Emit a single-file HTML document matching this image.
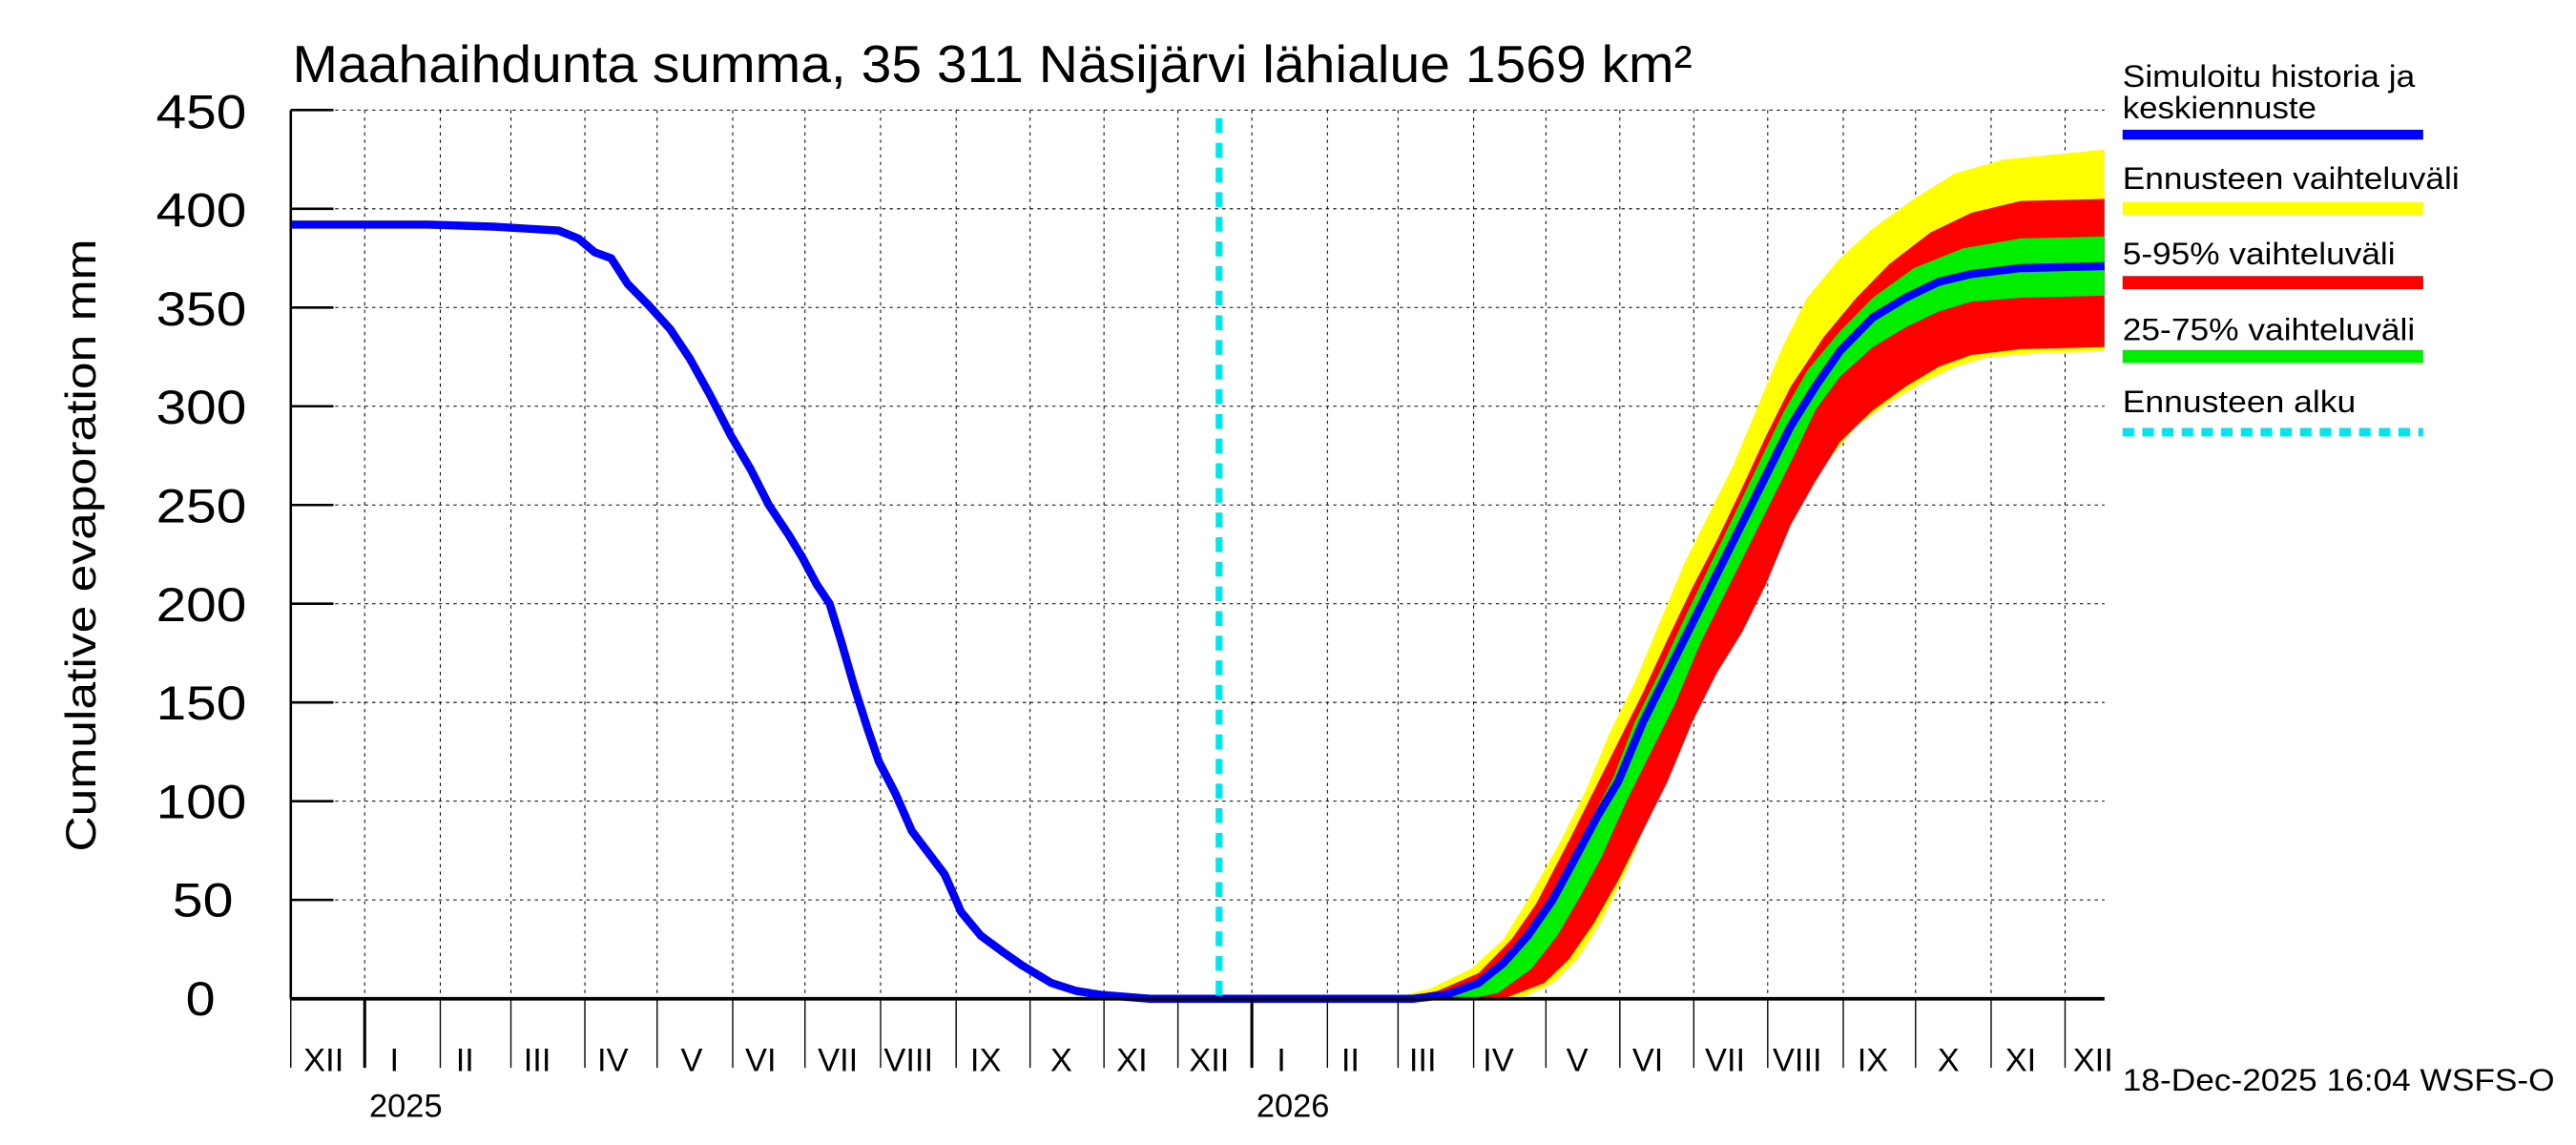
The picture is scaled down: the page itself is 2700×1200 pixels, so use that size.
<!DOCTYPE html>
<html><head><meta charset="utf-8"><style>
html,body{margin:0;padding:0;background:#fff;}
svg{display:block;}
text{font-family:"Liberation Sans",sans-serif;fill:#000;}
</style></head><body>
<svg width="2700" height="1200" viewBox="0 0 1568 697" preserveAspectRatio="none" xmlns="http://www.w3.org/2000/svg">
<rect width="1568" height="697" fill="#fff"/>
<g stroke="#000" stroke-width="0.6" stroke-dasharray="2,2.5">
<line x1="177" x2="1281" y1="67" y2="67"/><line x1="177" x2="1281" y1="127.1" y2="127.1"/><line x1="177" x2="1281" y1="187.2" y2="187.2"/><line x1="177" x2="1281" y1="247.3" y2="247.3"/><line x1="177" x2="1281" y1="307.4" y2="307.4"/><line x1="177" x2="1281" y1="367.5" y2="367.5"/><line x1="177" x2="1281" y1="427.6" y2="427.6"/><line x1="177" x2="1281" y1="487.7" y2="487.7"/><line x1="177" x2="1281" y1="547.8" y2="547.8"/>
<line x1="222" x2="222" y1="67" y2="608"/><line x1="268" x2="268" y1="67" y2="608"/><line x1="311" x2="311" y1="67" y2="608"/><line x1="356" x2="356" y1="67" y2="608"/><line x1="400" x2="400" y1="67" y2="608"/><line x1="446" x2="446" y1="67" y2="608"/><line x1="490" x2="490" y1="67" y2="608"/><line x1="536" x2="536" y1="67" y2="608"/><line x1="582" x2="582" y1="67" y2="608"/><line x1="627" x2="627" y1="67" y2="608"/><line x1="672" x2="672" y1="67" y2="608"/><line x1="717" x2="717" y1="67" y2="608"/><line x1="762" x2="762" y1="67" y2="608"/><line x1="808" x2="808" y1="67" y2="608"/><line x1="851" x2="851" y1="67" y2="608"/><line x1="897" x2="897" y1="67" y2="608"/><line x1="941" x2="941" y1="67" y2="608"/><line x1="986" x2="986" y1="67" y2="608"/><line x1="1031" x2="1031" y1="67" y2="608"/><line x1="1076" x2="1076" y1="67" y2="608"/><line x1="1122" x2="1122" y1="67" y2="608"/><line x1="1166" x2="1166" y1="67" y2="608"/><line x1="1212" x2="1212" y1="67" y2="608"/><line x1="1257" x2="1257" y1="67" y2="608"/>
</g>
<g transform="translate(0,608) scale(1,-1.2022)">
<polygon fill="#ffff00" points="845,0 870,5 895,15 915,30 930,50 950,80 965,105 980,135 995,160 1010,190 1025,220 1040,245 1055,270 1070,300 1085,330 1100,355 1120,375 1140,390 1165,405 1190,418 1220,425 1281,430 1281,328 1240,327 1210,325 1190,320 1170,312 1150,302 1130,290 1110,270 1095,250 1080,225 1065,200 1050,175 1035,150 1020,120 1005,95 990,65 975,40 960,20 945,8 925,0"/>
<polygon fill="#ff0000" points="850,0 875,4 900,13 920,30 935,48 955,80 970,105 985,130 1000,155 1015,182 1030,208 1045,232 1060,258 1075,285 1090,310 1110,335 1130,355 1150,372 1175,388 1200,398 1230,404 1281,405 1281,330 1230,329 1200,326 1180,320 1160,310 1140,298 1120,282 1105,262 1090,240 1075,210 1060,185 1045,165 1030,140 1015,110 1000,85 985,60 970,38 955,20 940,8 915,0"/>
<polygon fill="#00ee00" points="858,0 880,3 905,12 925,28 940,45 955,68 968,90 982,112 995,140 1010,165 1025,192 1040,218 1055,244 1070,270 1085,296 1100,318 1120,338 1140,355 1165,370 1195,380 1230,385 1281,386 1281,356 1230,355 1200,353 1180,348 1160,340 1140,330 1120,315 1105,298 1092,275 1080,255 1065,230 1050,205 1035,180 1020,150 1005,125 990,100 975,72 962,52 948,32 932,15 912,3 895,0"/>
<polyline fill="none" stroke="#0000ff" stroke-width="8.5" stroke-linejoin="round" vector-effect="non-scaling-stroke" points="177,392 260,392 300,391 320,390 340,389 352,385 362,378 372,375 382,362 395,351 408,339 420,324 432,306 445,285 457,268 468,250 480,235 488,224 497,210 505,200 512,181 520,158 528,137 535,120 545,104 555,85 565,74 575,63 585,44 597,32 610,24 622,17 640,8 655,4 670,2 700,0 860,0 880,2 900,8 915,18 930,32 945,50 958,70 972,92 985,110 1000,140 1015,165 1030,190 1045,215 1060,240 1075,265 1090,290 1105,310 1120,328 1140,345 1160,355 1180,363 1200,367 1230,370 1281,371"/>
</g>
<line x1="742" x2="742" y1="72" y2="608" stroke="#00e5ee" stroke-width="4" stroke-dasharray="9,6"/>
<line x1="177" x2="1281" y1="608" y2="608" stroke="#000" stroke-width="2.2"/>
<line x1="177" x2="177" y1="67" y2="608" stroke="#000" stroke-width="1.5"/>
<g stroke="#000" stroke-width="1.5">
<line x1="177" x2="203" y1="67" y2="67"/><line x1="177" x2="203" y1="127.1" y2="127.1"/><line x1="177" x2="203" y1="187.2" y2="187.2"/><line x1="177" x2="203" y1="247.3" y2="247.3"/><line x1="177" x2="203" y1="307.4" y2="307.4"/><line x1="177" x2="203" y1="367.5" y2="367.5"/><line x1="177" x2="203" y1="427.6" y2="427.6"/><line x1="177" x2="203" y1="487.7" y2="487.7"/><line x1="177" x2="203" y1="547.8" y2="547.8"/>
</g>
<g stroke="#000" stroke-width="0.8">
<line x1="177" x2="177" y1="608" y2="650"/><line x1="268" x2="268" y1="608" y2="650"/><line x1="311" x2="311" y1="608" y2="650"/><line x1="356" x2="356" y1="608" y2="650"/><line x1="400" x2="400" y1="608" y2="650"/><line x1="446" x2="446" y1="608" y2="650"/><line x1="490" x2="490" y1="608" y2="650"/><line x1="536" x2="536" y1="608" y2="650"/><line x1="582" x2="582" y1="608" y2="650"/><line x1="627" x2="627" y1="608" y2="650"/><line x1="672" x2="672" y1="608" y2="650"/><line x1="717" x2="717" y1="608" y2="650"/><line x1="808" x2="808" y1="608" y2="650"/><line x1="851" x2="851" y1="608" y2="650"/><line x1="897" x2="897" y1="608" y2="650"/><line x1="941" x2="941" y1="608" y2="650"/><line x1="986" x2="986" y1="608" y2="650"/><line x1="1031" x2="1031" y1="608" y2="650"/><line x1="1076" x2="1076" y1="608" y2="650"/><line x1="1122" x2="1122" y1="608" y2="650"/><line x1="1166" x2="1166" y1="608" y2="650"/><line x1="1212" x2="1212" y1="608" y2="650"/><line x1="1257" x2="1257" y1="608" y2="650"/>
</g>
<line x1="222" x2="222" y1="608" y2="650" stroke="#000" stroke-width="1.8"/>
<line x1="762" x2="762" y1="608" y2="650" stroke="#000" stroke-width="1.8"/>
<g font-size="29" text-anchor="end">
<text x="150" y="78" textLength="55" lengthAdjust="spacingAndGlyphs">450</text><text x="150" y="138" textLength="55" lengthAdjust="spacingAndGlyphs">400</text><text x="150" y="198" textLength="55" lengthAdjust="spacingAndGlyphs">350</text><text x="150" y="258" textLength="55" lengthAdjust="spacingAndGlyphs">300</text><text x="150" y="318" textLength="55" lengthAdjust="spacingAndGlyphs">250</text><text x="150" y="378" textLength="55" lengthAdjust="spacingAndGlyphs">200</text><text x="150" y="438" textLength="55" lengthAdjust="spacingAndGlyphs">150</text><text x="150" y="498" textLength="55" lengthAdjust="spacingAndGlyphs">100</text><text x="142" y="558" textLength="37" lengthAdjust="spacingAndGlyphs">50</text><text x="131" y="618" textLength="18" lengthAdjust="spacingAndGlyphs">0</text>
</g>
<text transform="translate(58,332) rotate(-90)" font-size="26" text-anchor="middle" textLength="373" lengthAdjust="spacingAndGlyphs">Cumulative evaporation   mm</text>
<text x="178" y="50" font-size="32" textLength="852" lengthAdjust="spacingAndGlyphs">Maahaihdunta summa, 35 311 Näsijärvi lähialue 1569 km²</text>
<g font-size="20" text-anchor="middle">
<text x="197" y="652">XII</text><text x="240" y="652">I</text><text x="283" y="652">II</text><text x="327" y="652">III</text><text x="373" y="652">IV</text><text x="421" y="652">V</text><text x="463" y="652">VI</text><text x="510" y="652">VII</text><text x="553" y="652">VIII</text><text x="600" y="652">IX</text><text x="646" y="652">X</text><text x="689" y="652">XI</text><text x="736" y="652">XII</text><text x="780" y="652">I</text><text x="822" y="652">II</text><text x="866" y="652">III</text><text x="912" y="652">IV</text><text x="960" y="652">V</text><text x="1003" y="652">VI</text><text x="1050" y="652">VII</text><text x="1094" y="652">VIII</text><text x="1140" y="652">IX</text><text x="1186" y="652">X</text><text x="1230" y="652">XI</text><text x="1274" y="652">XII</text>
<text x="247" y="680">2025</text><text x="787" y="680">2026</text>
</g>
<g font-size="19">
<text x="1292" y="53" textLength="178" lengthAdjust="spacingAndGlyphs">Simuloitu historia ja</text>
<text x="1292" y="72" textLength="118" lengthAdjust="spacingAndGlyphs">keskiennuste</text>
<text x="1292" y="115" textLength="205" lengthAdjust="spacingAndGlyphs">Ennusteen vaihteluväli</text>
<text x="1292" y="161" textLength="166" lengthAdjust="spacingAndGlyphs">5-95% vaihteluväli</text>
<text x="1292" y="207" textLength="178" lengthAdjust="spacingAndGlyphs">25-75% vaihteluväli</text>
<text x="1292" y="251" textLength="142" lengthAdjust="spacingAndGlyphs">Ennusteen alku</text>
<text x="1292" y="664" textLength="263" lengthAdjust="spacingAndGlyphs">18-Dec-2025 16:04 WSFS-O</text>
</g>
<line x1="1292" x2="1475" y1="82" y2="82" stroke="#0000ff" stroke-width="6"/>
<line x1="1292" x2="1475" y1="127" y2="127" stroke="#ffff00" stroke-width="8"/>
<line x1="1292" x2="1475" y1="172" y2="172" stroke="#ff0000" stroke-width="8"/>
<line x1="1292" x2="1475" y1="217" y2="217" stroke="#00ee00" stroke-width="8"/>
<line x1="1292" x2="1475" y1="263" y2="263" stroke="#00e5ee" stroke-width="5" stroke-dasharray="7,5"/>
</svg>
</body></html>
